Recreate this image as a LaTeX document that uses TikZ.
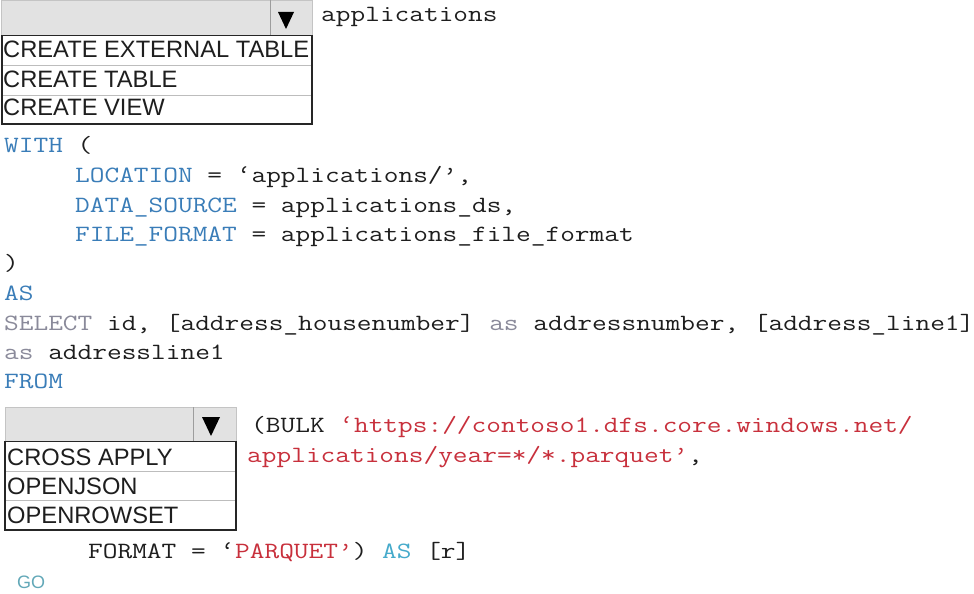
\documentclass[tikz,border=0pt]{standalone}
\usepackage{graphicx}
\usepackage{fontspec}
\setmainfont{Liberation Sans}
\newcommand\codeline[1]{\scalebox{1.225}[1]{#1}}
\definecolor{kwblue}{HTML}{3A7DB8}
\definecolor{kwgray}{HTML}{8A8A9A}
\definecolor{strred}{HTML}{C8303C}
\definecolor{kwcyan}{HTML}{45AACB}
\definecolor{gocyan}{HTML}{62A8B8}
\definecolor{ddfill}{HTML}{E2E2E2}
\definecolor{ddline}{HTML}{C4C4C4}
\definecolor{sepline}{HTML}{BDBDBD}
\definecolor{txt}{HTML}{1E1E1E}
\begin{document}
\begin{tikzpicture}[x=1pt,y=-1pt,
  code/.style={anchor=base west,inner sep=0pt,font=\ttfamily\fontsize{23.3pt}{28pt}\selectfont,text=txt},
  item/.style={anchor=base west,inner sep=0pt,font=\fontsize{23.7pt}{27pt}\selectfont,text=txt},
  ddbox/.style={draw=ddline,fill=ddfill,line width=0.8pt},
  divider/.style={draw=ddline!80!black,line width=0.8pt},
  listbox/.style={draw=black!85,line width=1.3pt},
  sepl/.style={draw=sepline,line width=1pt},
  tri/.style={fill=black}]
\useasboundingbox (0,0) rectangle (974,594);
\fill[white] (0,0) rectangle (974,594);

% dropdown 1
\draw[ddbox] (1,0.5) rectangle (312,35);
\draw[divider] (270,0.5) -- (270,35);
\fill[tri] (278,12) -- (294,12) -- (286,29) -- cycle;
\draw[listbox] (2,35.5) rectangle (312,124);
\draw[sepl] (3,66) -- (311,66);
\draw[sepl] (3,95) -- (311,95);
\node[item] (i1) at (3,57.5) {CREATE EXTERNAL TABLE};
\node[item] (i2) at (3,87) {CREATE TABLE};
\node[item] (i3) at (3,115.5) {CREATE VIEW};
\node[code] (apps) at (321,22) {\codeline{applications}};

% code
\node[code] (l1) at (4,152) {\codeline{\textcolor{kwblue}{WITH} (}};
\node[code] (l2) at (75,182) {\codeline{\textcolor{kwblue}{LOCATION} = ‘applications/’,}};
\node[code] (l3) at (75,212) {\codeline{\textcolor{kwblue}{DATA\_SOURCE} = applications\_ds,}};
\node[code] (l4) at (75,241) {\codeline{\textcolor{kwblue}{FILE\_FORMAT} = applications\_file\_format}};
\node[code] (l5) at (4,270) {\codeline{)}};
\node[code] (l6) at (4,300) {\codeline{\textcolor{kwblue}{AS}}};
\node[code] (l7) at (4,330) {\codeline{\textcolor{kwgray}{SELECT} id, [address\_housenumber] \textcolor{kwgray}{as} addressnumber, [address\_line1]}};
\node[code] (l8) at (4,359) {\codeline{\textcolor{kwgray}{as} addressline1}};
\node[code] (l9) at (4,388) {\codeline{\textcolor{kwblue}{FROM}}};

% dropdown 2
\draw[ddbox] (5,407) rectangle (236,441);
\draw[divider] (193,407) -- (193,441);
\fill[tri] (202,417) -- (220,417) -- (211,436) -- cycle;
\draw[listbox] (5,441.5) rectangle (236,530);
\draw[sepl] (6,471.5) -- (235,471.5);
\draw[sepl] (6,500.5) -- (235,500.5);
\node[item] (j1) at (7,465) {CROSS APPLY};
\node[item] (j2) at (7,494) {OPENJSON};
\node[item] (j3) at (7,523) {OPENROWSET};

\node[code] (b1) at (251,432) {\codeline{(BULK \textcolor{strred}{‘https://contoso1.dfs.core.windows.net/}}};
\node[code] (b2) at (247,462) {\codeline{\textcolor{strred}{applications/year=*/*.parquet’},}};
\node[code] (b3) at (88,558) {\codeline{FORMAT = ‘\textcolor{strred}{PARQUET’}) \textcolor{kwcyan}{AS} [r]}};
\node[anchor=base west,inner sep=0pt,font=\fontsize{18pt}{20pt}\selectfont,text=gocyan] (go) at (17,588) {GO};
\end{tikzpicture}
\end{document}
